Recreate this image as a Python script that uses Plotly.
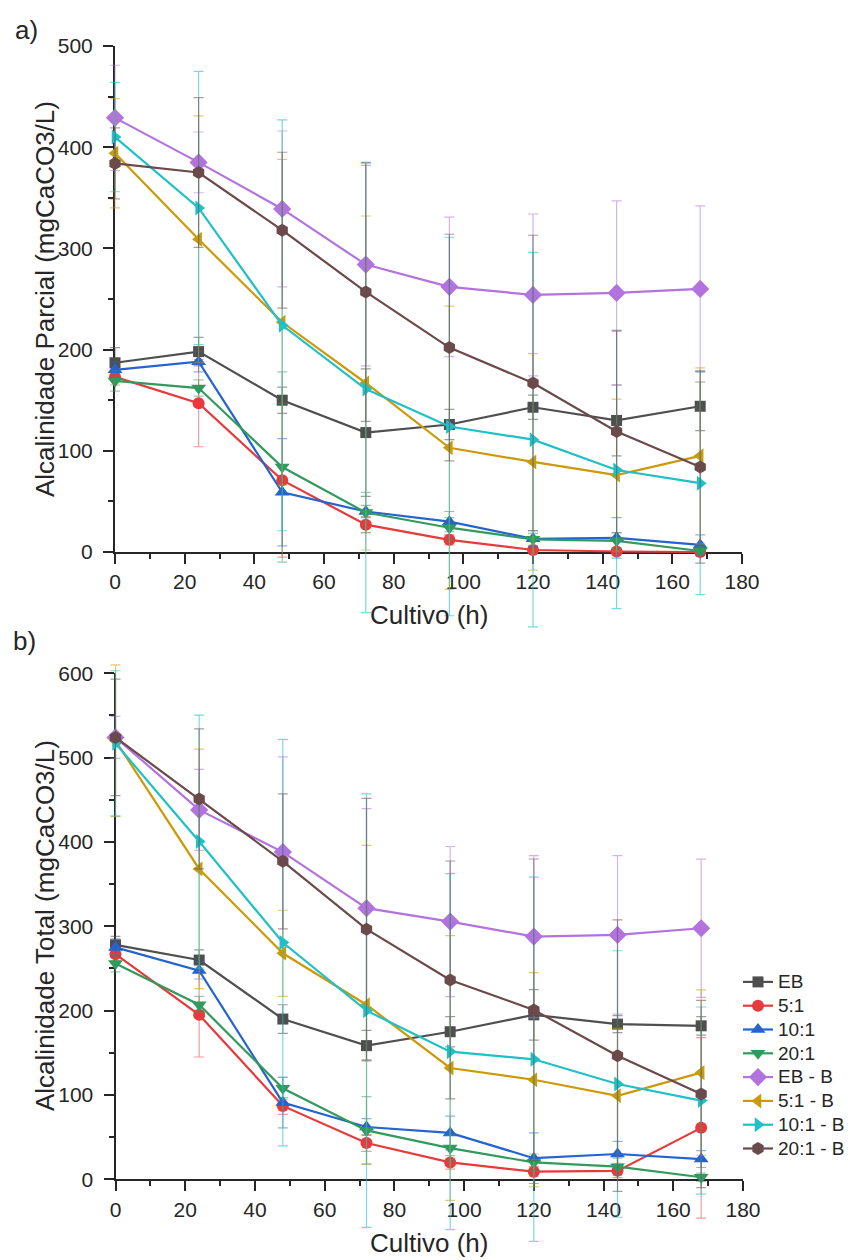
import plotly.graph_objects as go

# Sampling times (h)
hours = [0, 24, 48, 72, 96, 120, 144, 168]

series_names = ["EB", "5:1", "10:1", "20:1", "EB - B", "5:1 - B", "10:1 - B", "20:1 - B"]

# a) Partial alkalinity (mgCaCO3/L): means and standard deviations
parcial_eb = [187, 198, 150, 118, 126, 143, 130, 144]
parcial_eb_sd = [15, 14, 13, 63, 15, 12, 35, 24]
parcial_5 = [173, 147, 71, 27, 12, 2, 0.5, 0]
parcial_5_sd = [8, 43, 76, 8, 5, 3, 2, 1]
parcial_10 = [180, 188, 59, 40, 30, 13, 14, 7]
parcial_10_sd = [8, 10, 53, 6, 10, 8, 20, 10]
parcial_20 = [169, 162, 84, 39, 24, 12.5, 11, 1]
parcial_20_sd = [10, 8, 94, 20, 10, 6, 8, 4]
parcial_ebb = [429, 385, 339, 284, 262, 254, 256, 260]
parcial_ebb_sd = [52, 30, 77, 100, 69, 80, 91, 82]
parcial_5b = [394, 309, 227, 167, 103, 89, 76, 95]
parcial_5b_sd = [54, 122, 161, 165, 140, 107, 75, 87]
parcial_10b = [410, 340, 224, 161, 124, 111, 81, 68]
parcial_10b_sd = [54, 135, 203, 221, 187, 185, 137, 110]
parcial_20b = [384, 375, 318, 257, 202, 167, 119, 84]
parcial_20b_sd = [35, 74, 77, 128, 112, 146, 100, 95]

# b) Total alkalinity (mgCaCO3/L): means and standard deviations
total_eb = [278, 260, 190, 158.5, 175, 195, 184, 182]
total_eb_sd = [10, 12, 17, 18, 18, 30, 10, 11]
total_5 = [267, 195, 87, 43, 20, 9, 10, 61]
total_5_sd = [8, 50, 10, 10, 8, 6, 8, 107]
total_10 = [275, 247.5, 91, 62, 55, 25, 30, 24]
total_10_sd = [10, 10, 30, 10, 20, 30, 15, 10]
total_20 = [256, 207, 108, 58, 37, 20, 15, 2.4]
total_20_sd = [10, 10, 13, 40, 15, 10, 10, 5]
total_ebb = [524, 438, 388, 321.5, 305.6, 287.8, 289.8, 297.7]
total_ebb_sd = [25, 48, 113, 118, 89, 96, 94, 82]
total_5b = [520, 368, 268, 207, 132, 118, 99, 126.5]
total_5b_sd = [90, 142, 51, 189, 157, 127, 80, 98]
total_10b = [517, 400.5, 280.7, 200, 151.4, 142.3, 113, 93.3]
total_10b_sd = [86, 150, 241, 257, 211, 216, 158, 111]
total_20b = [524, 451, 377, 296.6, 236.4, 200.8, 146.6, 101.2]
total_20b_sd = [69, 83, 80, 155, 141, 179, 161, 111]

parcial = [parcial_eb, parcial_5, parcial_10, parcial_20,
           parcial_ebb, parcial_5b, parcial_10b, parcial_20b]
parcial_sd = [parcial_eb_sd, parcial_5_sd, parcial_10_sd, parcial_20_sd,
              parcial_ebb_sd, parcial_5b_sd, parcial_10b_sd, parcial_20b_sd]
total = [total_eb, total_5, total_10, total_20,
         total_ebb, total_5b, total_10b, total_20b]
total_sd = [total_eb_sd, total_5_sd, total_10_sd, total_20_sd,
            total_ebb_sd, total_5b_sd, total_10b_sd, total_20b_sd]

colors = ["#4f4f4f", "#e8393c", "#2563cf", "#339a5e",
          "#b273df", "#cc9a08", "#1fc0c6", "#6a4a4a"]
err_colors = ["rgba(79,79,79,0.55)", "rgba(232,57,60,0.5)", "rgba(37,99,207,0.5)",
              "rgba(51,154,94,0.5)", "rgba(178,115,223,0.55)", "rgba(204,154,8,0.55)",
              "rgba(31,192,198,0.6)", "rgba(106,74,74,0.55)"]
symbols = ["square", "circle", "triangle-up", "triangle-down",
           "diamond", "triangle-left", "triangle-right", "hexagon"]
sizes = [11, 12, 13, 13, 14, 13, 13, 13]

W, H = 850, 1260
FONT = "Liberation Sans, Arial, sans-serif"
INK = "#262626"


def px_x(p):
    return p / W


def px_y(p):
    return 1 - p / H


# Pixel frames of the two visible panels: (left, right, top, bottom) and their data ranges
panels = {
    "a": dict(box=(115, 742, 46, 552), xr=(0, 180), yr=(0, 500), ydt=100),
    "b": dict(box=(115.5, 743, 673.3, 1179.3), xr=(0, 180), yr=(0, 600), ydt=100),
}
# Data drawn in companion (hidden) axes with the same scale but a wider window,
# so error bars can run past the axis lines
pad_x = (-6, 186)
pad_y = {"a": (-100, 520), "b": (-90, 620)}


def padded_domain(box, xr, yr, xr2, yr2):
    l, r, t, b = box
    kx = (r - l) / (xr[1] - xr[0])
    ky = (b - t) / (yr[1] - yr[0])
    l2 = l - (xr[0] - xr2[0]) * kx
    r2 = r + (xr2[1] - xr[1]) * kx
    b2 = b + (yr[0] - yr2[0]) * ky
    t2 = t - (yr2[1] - yr[1]) * ky
    return [px_x(l2), px_x(r2)], [px_y(b2), px_y(t2)]


fig = go.Figure()

# Empty traces so that the framed axes of both panels are drawn
for xa, ya in (("x", "y"), ("x2", "y2")):
    fig.add_trace(go.Scatter(x=[], y=[], xaxis=xa, yaxis=ya, mode="markers",
                             showlegend=False, hoverinfo="skip"))

for i, name in enumerate(series_names):
    for panel, vals, sds, xa, ya in (("a", parcial, parcial_sd, "x3", "y3"),
                                     ("b", total, total_sd, "x4", "y4")):
        fig.add_trace(go.Scatter(
            x=hours, y=vals[i],
            name='<span style="font-size:19px">%s</span>' % name,
            legendgroup=name,
            showlegend=(panel == "b"),
            mode="lines+markers",
            line=dict(color=colors[i], width=2.2),
            marker=dict(symbol=symbols[i], size=sizes[i], color=colors[i],
                        line=dict(width=0)),
            error_y=dict(type="data", array=sds[i], visible=True,
                         color=err_colors[i], thickness=1.2, width=5),
            cliponaxis=False,
            xaxis=xa, yaxis=ya,
        ))

axis_common = dict(
    showline=True, linewidth=2, linecolor=INK,
    ticks="outside", ticklen=10, tickwidth=2, tickcolor=INK,
    showgrid=False, zeroline=False, automargin=False,
    tickfont=dict(family=FONT, size=21, color=INK),
)
minor_x = dict(dtick=10, ticks="outside", ticklen=5, tickwidth=2, tickcolor=INK)
minor_y = dict(dtick=50, ticks="outside", ticklen=5, tickwidth=2, tickcolor=INK)

layout_axes = {}
for idx, key in ((1, "a"), (2, "b")):
    p = panels[key]
    l, r, t, b = p["box"]
    sx = "" if idx == 1 else str(idx)
    layout_axes["xaxis" + sx] = dict(axis_common, domain=[px_x(l), px_x(r)], range=list(p["xr"]),
                                     dtick=20, tick0=0, anchor="y" + sx, ticklabelstandoff=0,
                                     minor=minor_x)
    layout_axes["yaxis" + sx] = dict(axis_common, domain=[px_y(b), px_y(t)], range=list(p["yr"]),
                                     dtick=p["ydt"], tick0=0, anchor="x" + sx, ticklabelstandoff=6,
                                     minor=minor_y)
    xd, yd = padded_domain(p["box"], p["xr"], p["yr"], pad_x, pad_y[key])
    hx = str(idx + 2)
    layout_axes["xaxis" + hx] = dict(domain=xd, range=list(pad_x), visible=False,
                                     anchor="y" + hx, showgrid=False, zeroline=False)
    layout_axes["yaxis" + hx] = dict(domain=yd, range=list(pad_y[key]), visible=False,
                                     anchor="x" + hx, showgrid=False, zeroline=False)

fig.update_layout(
    width=W, height=H,
    margin=dict(l=0, r=0, t=0, b=0, pad=0, autoexpand=False),
    paper_bgcolor="white", plot_bgcolor="rgba(0,0,0,0)",
    font=dict(family=FONT, color=INK),
    legend=dict(x=1, y=px_y(965), xanchor="right", yanchor="top",
                bgcolor="rgba(0,0,0,0)", font=dict(family=FONT, size=16, color=INK),
                tracegroupgap=0, itemwidth=30),
    showlegend=True,
    **layout_axes,
)

annotations = [
    dict(text="a)", x=px_x(26), y=px_y(30)),
    dict(text="b)", x=px_x(24), y=px_y(641)),
    dict(text="Alcalinidade Parcial (mgCaCO3/L)", x=px_x(45), y=px_y(299), textangle=-90),
    dict(text="Cultivo (h)", x=px_x(429), y=px_y(615)),
    dict(text="Alcalinidade Total (mgCaCO3/L)", x=px_x(45), y=px_y(926), textangle=-90),
    dict(text="Cultivo (h)", x=px_x(429), y=px_y(1243)),
]
for a in annotations:
    fig.add_annotation(xref="paper", yref="paper", showarrow=False,
                       xanchor="center", yanchor="middle",
                       font=dict(family=FONT, size=26, color=INK), **a)

fig.write_html("out.html")
